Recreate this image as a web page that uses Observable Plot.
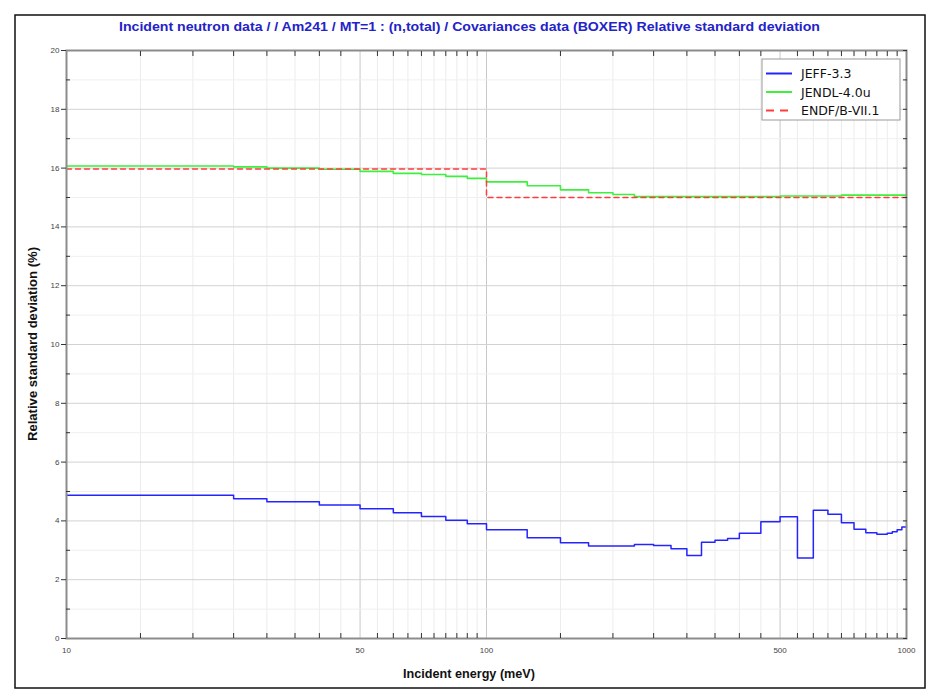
<!DOCTYPE html>
<html>
<head>
<meta charset="utf-8">
<script src="https://cdn.jsdelivr.net/npm/d3@7"></script>
<script src="https://cdn.jsdelivr.net/npm/@observablehq/plot@0.6"></script>
<style>
  html, body { margin: 0; padding: 0; background: #fff; }
  #chart svg { display: block; }
</style>
</head>
<body>
<div id="chart"></div>
<script>
// ---- Data ----
const jeffE  = [10,25,30,40,50,60,70,80,90,100,125,150,175,225,250,275,300,325,350,375,400,450,500,550,600,650,700,750,800,850,900,925,950,975,1000];
const jeffV  = [4.87,4.75,4.65,4.54,4.41,4.28,4.15,4.02,3.90,3.70,3.43,3.26,3.15,3.20,3.16,3.05,2.82,3.27,3.34,3.40,3.58,3.97,4.14,2.74,4.36,4.23,3.94,3.72,3.60,3.55,3.58,3.63,3.70,3.79,3.82];
const jendlE = [10,25,30,40,50,60,70,80,90,100,125,150,175,200,225,500,700,1000];
const jendlV = [16.07,16.04,16.00,15.96,15.89,15.82,15.78,15.72,15.65,15.53,15.40,15.26,15.16,15.10,15.03,15.05,15.08,15.09];
const endfE  = [10,100,1000];
const endfV  = [15.97,15.00,15.00];

const seriesNames = ["JEFF-3.3", "JENDL-4.0u", "ENDF/B-VII.1"];
const seriesColors = ["#2424ff", "#3cf03c", "#ff3b3b"];

const xTickLabels = [10, 50, 100, 500, 1000];
const xMinorTicks = [15,20,25,30,35,40,45,55,60,65,70,75,80,85,90,95,150,200,250,300,350,400,450,550,600,650,700,750,800,850,900,950];
const yTickLabels = [0,2,4,6,8,10,12,14,16,18,20];
const yMinorTicks = [1,3,5,7,9,11,13,15,17,19];

const titleText = "Incident neutron data / / Am241 / MT=1 : (n,total) / Covariances data (BOXER) Relative standard deviation";
const xLabel = "Incident energy (meV)";
const yLabel = "Relative standard deviation (%)";

const toRows = (E, V) => E.map((e, i) => ({e, v: V[i]}));
const jeff = toRows(jeffE, jeffV);
const jendl = toRows(jendlE, jendlV);
const endf = toRows(endfE, endfV);

const font = "'Liberation Sans Narrow', 'Liberation Sans', Arial, sans-serif";
const blank = () => "";

const svg = Plot.plot({
  width: 928,
  height: 690,
  marginLeft: 66,
  marginRight: 22,
  marginTop: 50,
  marginBottom: 52,
  style: {fontFamily: font, fontSize: "8px", color: "#333", background: "#fff"},
  x: {type: "log", domain: [10, 1000], label: null},
  y: {domain: [0, 20], label: null},
  marks: [
    Plot.gridX(xMinorTicks, {stroke: "#ececec", strokeOpacity: 1}),
    Plot.gridX([50, 100, 500], {stroke: "#c8c8c8", strokeOpacity: 1}),
    Plot.gridY(yMinorTicks, {stroke: "#efefef", strokeOpacity: 1}),
    Plot.gridY(yTickLabels, {stroke: "#d2d2d2", strokeOpacity: 1}),
    Plot.line(jendl, {x: "e", y: "v", curve: "step-after", stroke: seriesColors[1], strokeWidth: 1.6}),
    Plot.line(endf, {x: "e", y: "v", curve: "step-after", stroke: seriesColors[2], strokeWidth: 1.5, strokeDasharray: "5,4"}),
    Plot.line(jeff, {x: "e", y: "v", curve: "step-after", stroke: seriesColors[0], strokeWidth: 1.5}),
    Plot.frame({stroke: "#8c8c8c", strokeWidth: 2}),
    Plot.axisX(xTickLabels, {anchor: "bottom", tickSize: 0, tickPadding: 9, tickFormat: d => String(d), label: null, fill: "#444"}),
    Plot.axisX(xMinorTicks, {anchor: "bottom", tickSize: 5, dy: -5, tickFormat: blank, label: null, stroke: "#333"}),
    Plot.axisX(xMinorTicks, {anchor: "top", tickSize: 5, dy: 5, tickFormat: blank, label: null, stroke: "#333"}),
    Plot.axisY(yTickLabels, {anchor: "left", tickSize: 5, tickPadding: 2, tickFormat: d => String(d), label: null, stroke: "#333", fill: "#444"}),
    Plot.axisY(yMinorTicks, {anchor: "left", tickSize: 4, dx: 4, tickFormat: blank, label: null, stroke: "#333"}),
    Plot.axisY(yMinorTicks.concat(yTickLabels), {anchor: "right", tickSize: 4, dx: -4, tickFormat: blank, label: null, stroke: "#333"})
  ]
});

const root = d3.select(svg);

// outer frame
root.append("rect")
  .attr("x", 15).attr("y", 15).attr("width", 910).attr("height", 673)
  .attr("fill", "none").attr("stroke", "#111").attr("stroke-width", 1.5);

// title
root.append("text")
  .attr("x", 469.5).attr("y", 31)
  .attr("text-anchor", "middle")
  .attr("textLength", 701).attr("lengthAdjust", "spacingAndGlyphs")
  .style("font-family", "'Liberation Sans', Arial, sans-serif")
  .style("font-weight", "bold").style("font-size", "13px")
  .attr("fill", "#2323c8")
  .text(titleText);

// x label
root.append("text")
  .attr("x", 469).attr("y", 678)
  .attr("text-anchor", "middle")
  .attr("textLength", 132).attr("lengthAdjust", "spacingAndGlyphs")
  .style("font-family", "'Liberation Sans', Arial, sans-serif")
  .style("font-weight", "bold").style("font-size", "13px")
  .attr("fill", "#111")
  .text(xLabel);

// y label
root.append("text")
  .attr("transform", "translate(37,344) rotate(-90)")
  .attr("text-anchor", "middle")
  .attr("textLength", 194).attr("lengthAdjust", "spacingAndGlyphs")
  .style("font-family", "'Liberation Sans', Arial, sans-serif")
  .style("font-weight", "bold").style("font-size", "13px")
  .attr("fill", "#111")
  .text(yLabel);

// legend
const lg = root.append("g");
lg.append("rect")
  .attr("x", 762).attr("y", 59).attr("width", 138).attr("height", 61)
  .attr("fill", "#fff").attr("stroke", "#9a9a9a").attr("stroke-width", 1);
seriesNames.forEach((name, i) => {
  const yy = 73.5 + i * 18.5;
  lg.append("line")
    .attr("x1", 766).attr("x2", 792).attr("y1", yy).attr("y2", yy)
    .attr("stroke", seriesColors[i]).attr("stroke-width", 2)
    .attr("stroke-dasharray", i === 2 ? "8,6" : null);
  lg.append("text")
    .attr("x", 801).attr("y", yy + 4.5)
    .attr("text-anchor", "start")
    .style("font-family", "'DejaVu Sans', sans-serif").style("font-size", "12.5px")
    .attr("fill", "#111")
    .text(name);
});

document.getElementById("chart").appendChild(svg);
</script>
</body>
</html>
